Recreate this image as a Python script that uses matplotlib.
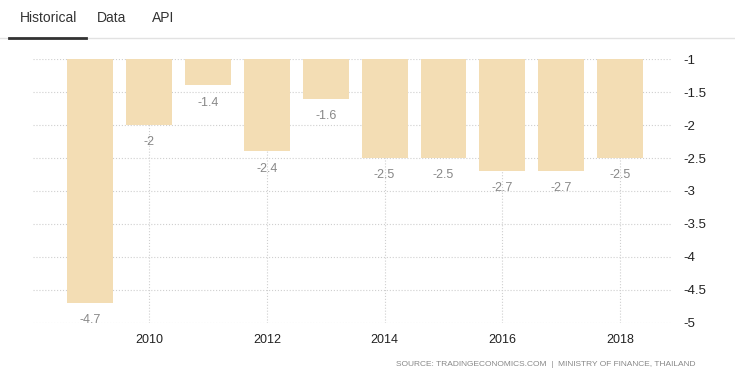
import matplotlib.pyplot as plt
from matplotlib.lines import Line2D

plt.rcParams['font.family'] = ['Liberation Sans', 'DejaVu Sans']

years = [2009, 2010, 2011, 2012, 2013, 2014, 2015, 2016, 2017, 2018]
values = [-4.7, -2.0, -1.4, -2.4, -1.6, -2.5, -2.5, -2.7, -2.7, -2.5]
value_labels = ['-4.7', '-2', '-1.4', '-2.4', '-1.6', '-2.5', '-2.5', '-2.7', '-2.7', '-2.5']
yticks = [-1, -1.5, -2, -2.5, -3, -3.5, -4, -4.5, -5]
xticks = [2010, 2012, 2014, 2016, 2018]

fig = plt.figure(figsize=(7.35, 3.79), dpi=100)
ax = fig.add_axes([0.0449, 0.1478, 0.8694, 0.6965])

base = -1
ax.bar(years, [v - base for v in values], bottom=base, width=0.78,
       color='#F3DDB4', zorder=2)

for x, v, s in zip(years, values, value_labels):
    ax.annotate(s, (x, v), xytext=(0, -8), textcoords='offset points',
                ha='center', va='top', fontsize=9, color='#888888')

ax.set_xlim(2008.03, 2018.88)
ax.set_ylim(-5, -1)
ax.set_xticks(xticks)
ax.set_xticklabels([str(t) for t in xticks])
ax.set_yticks(yticks)
ax.set_yticklabels([f'{t:g}' for t in yticks])
ax.yaxis.tick_right()
ax.tick_params(axis='y', length=0, pad=8, labelsize=9.5, labelcolor='#222222')
ax.tick_params(axis='x', length=0, pad=8, labelsize=9, labelcolor='#222222')
for sp in ax.spines.values():
    sp.set_visible(False)
ax.set_axisbelow(True)
ax.grid(True, axis='both', linestyle=':', color='#cfcfcf', linewidth=0.8, zorder=0)

# tabs header
fig.text(20 / 735, 1 - 18 / 379, 'Historical', fontsize=10, color='#333333', va='center')
fig.text(97 / 735, 1 - 18 / 379, 'Data', fontsize=10, color='#333333', va='center')
fig.text(152 / 735, 1 - 18 / 379, 'API', fontsize=10, color='#333333', va='center')
fig.add_artist(Line2D([0, 1], [1 - 38 / 379] * 2, color='#e2e2e2', linewidth=1))
fig.add_artist(Line2D([9 / 735, 86 / 735], [1 - 37.5 / 379] * 2, color='#333333', linewidth=2))

fig.text(695 / 735, 1 - 364 / 379,
         'SOURCE: TRADINGECONOMICS.COM  |  MINISTRY OF FINANCE, THAILAND',
         fontsize=6, color='#888888', ha='right', va='center')

fig.savefig('out.png', dpi=100)
